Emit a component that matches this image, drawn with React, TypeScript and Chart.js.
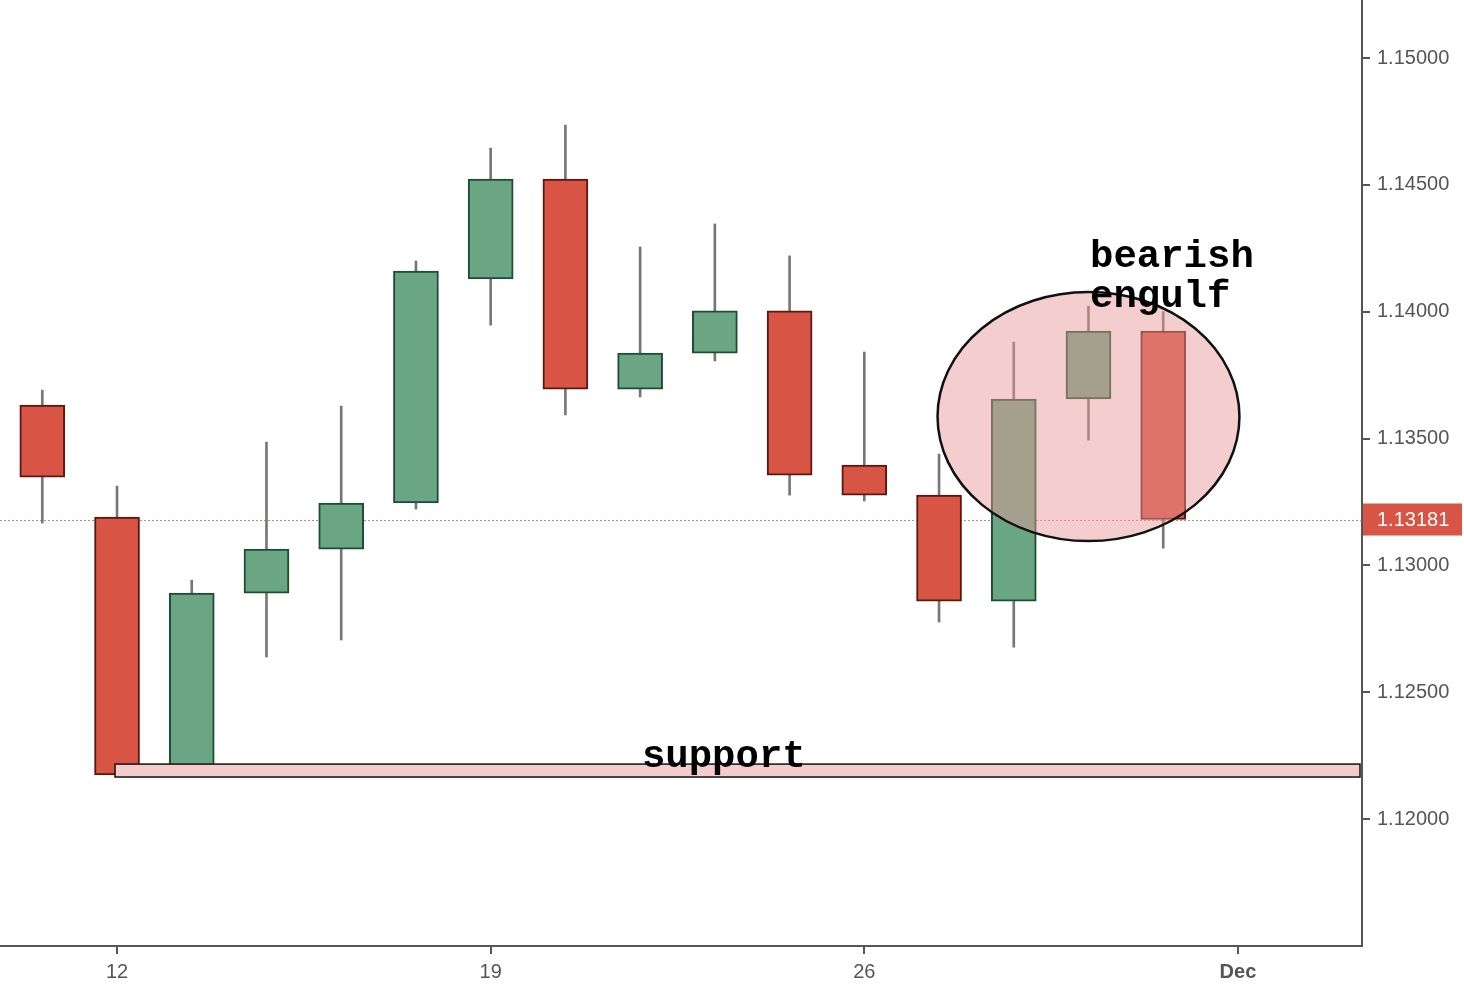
import React, { useEffect, useRef } from "react";
import { Chart, registerables } from "chart.js";

Chart.register(...registerables);

// Trading days (Nov 9 .. Nov 30), x index = position
const days = ["Nov 9", "Nov 12", "Nov 13", "Nov 14", "Nov 15", "Nov 16", "Nov 19", "Nov 20", "Nov 21", "Nov 22", "Nov 23", "Nov 26", "Nov 27", "Nov 28", "Nov 29", "Nov 30"];
const opens = [1.13632, 1.13191, 1.12174, 1.12891, 1.13064, 1.13246, 1.14129, 1.14523, 1.13695, 1.13837, 1.14003, 1.13396, 1.13277, 1.12859, 1.13656, 1.13924];
const highs = [1.13691, 1.13313, 1.12942, 1.13486, 1.13628, 1.14200, 1.14645, 1.14736, 1.14255, 1.14346, 1.14220, 1.13841, 1.13439, 1.13880, 1.14022, 1.14000];
const lows = [1.13167, 1.12174, 1.12174, 1.12639, 1.12706, 1.13222, 1.13947, 1.13593, 1.13664, 1.13806, 1.13277, 1.13254, 1.12777, 1.12678, 1.13494, 1.13068];
const closes = [1.13348, 1.12174, 1.12891, 1.13064, 1.13246, 1.14160, 1.14523, 1.13695, 1.13837, 1.14003, 1.13356, 1.13277, 1.12859, 1.13656, 1.13924, 1.13181];

const xTickValues = [1, 6, 11, 16];
const xTickLabels = ["12", "19", "26", "Dec"];
const yTickValues = [1.12, 1.125, 1.13, 1.135, 1.14, 1.145, 1.15];

const lastPrice = 1.13181;
const supportRange = [1.12166, 1.12217];
const supportStart = 1;
const supportLabel = "support";
const supportLabelPos = [9.12, 1.12205];
const ellipseCenter = [14.0, 1.135867];
const ellipseRadii = [2.02, 0.004908];
const patternLines = ["bearish", "engulf"];
const patternLabelPos = [14.02, 1.14176];

const X_MIN = -0.566;
const X_MAX = 17.66;
const Y_MIN = 1.115;
const Y_MAX = 1.152286;

const RED = "#d85444";
const RED_EDGE = "#5a1810";
const GREEN = "#6aa684";
const GREEN_EDGE = "#1e4d30";

const annotations = {
  id: "annotations",
  beforeDatasetsDraw(chart: any) {
    const { ctx, chartArea, scales } = chart;
    const y = Math.round(scales.y.getPixelForValue(lastPrice)) + 0.5;
    ctx.save();
    ctx.strokeStyle = "rgba(216,84,68,0.75)";
    ctx.lineWidth = 1;
    ctx.setLineDash([2, 2]);
    ctx.beginPath();
    ctx.moveTo(chartArea.left, y);
    ctx.lineTo(chartArea.right, y);
    ctx.stroke();
    ctx.restore();
  },
  afterDatasetsDraw(chart: any) {
    const { ctx, chartArea, scales } = chart;
    const xs = scales.x;
    const ys = scales.y;
    ctx.save();
    // support band
    const x0 = xs.getPixelForValue(supportStart) - 2;
    const x1 = chartArea.right - 2;
    const yt = ys.getPixelForValue(supportRange[1]);
    const yb = ys.getPixelForValue(supportRange[0]);
    ctx.fillStyle = "#f4cccc";
    ctx.fillRect(x0, yt, x1 - x0, yb - yt);
    ctx.strokeStyle = "#111";
    ctx.lineWidth = 1.5;
    ctx.strokeRect(x0, yt, x1 - x0, yb - yt);
    ctx.fillStyle = "#000";
    ctx.font = "bold 39px 'Liberation Mono', 'Courier New', monospace";
    ctx.textAlign = "center";
    ctx.textBaseline = "alphabetic";
    ctx.fillText(supportLabel, xs.getPixelForValue(supportLabelPos[0]), ys.getPixelForValue(supportLabelPos[1]));

    // ellipse
    const cx = xs.getPixelForValue(ellipseCenter[0]);
    const cy = ys.getPixelForValue(ellipseCenter[1]);
    const rx = xs.getPixelForValue(ellipseCenter[0] + ellipseRadii[0]) - cx;
    const ry = cy - ys.getPixelForValue(ellipseCenter[1] + ellipseRadii[1]);
    ctx.beginPath();
    ctx.ellipse(cx, cy, rx, ry, 0, 0, Math.PI * 2);
    ctx.fillStyle = "rgba(231,150,150,0.47)";
    ctx.fill();
    ctx.strokeStyle = "#111";
    ctx.lineWidth = 2.5;
    ctx.stroke();

    // pattern label
    ctx.fillStyle = "#000";
    ctx.textAlign = "left";
    const lx = xs.getPixelForValue(patternLabelPos[0]);
    const ly = ys.getPixelForValue(patternLabelPos[1]);
    patternLines.forEach((t, i) => ctx.fillText(t, lx, ly + i * 40));
    ctx.restore();
  },
  afterDraw(chart: any) {
    const { ctx, chartArea, scales } = chart;
    const y = scales.y.getPixelForValue(lastPrice);
    ctx.save();
    ctx.fillStyle = RED;
    ctx.fillRect(chartArea.right + 1, y - 16, 99, 32);
    ctx.fillStyle = "#fff";
    ctx.font = "20px 'Liberation Sans', Arial, sans-serif";
    ctx.textAlign = "left";
    ctx.textBaseline = "middle";
    ctx.fillText(lastPrice.toFixed(5), chartArea.right + 15, y + 1);
    ctx.restore();
  },
};

export default function App() {
  const ref = useRef<HTMLCanvasElement>(null);
  useEffect(() => {
    document.body.style.margin = "0";
    Chart.defaults.font.family = "'Liberation Sans', Arial, Helvetica, sans-serif";
    const up = opens.map((o, i) => closes[i] >= o);
    const chart = new Chart(ref.current!, {
      type: "bar",
      data: {
        datasets: [
          {
            label: "wick",
            data: days.map((_, i) => ({ x: i, y: [lows[i], highs[i]] })) as any,
            backgroundColor: "#777",
            borderWidth: 0,
            barThickness: 2,
            grouped: false,
            order: 2,
          } as any,
          {
            label: "body",
            data: days.map((_, i) => ({ x: i, y: [opens[i], closes[i]] })) as any,
            backgroundColor: up.map((u) => (u ? GREEN : RED)),
            borderColor: up.map((u) => (u ? GREEN_EDGE : RED_EDGE)),
            borderWidth: 2,
            borderSkipped: false,
            barThickness: 45,
            grouped: false,
            order: 1,
          } as any,
        ],
      },
      options: {
        responsive: false,
        animation: false,
        layout: { padding: 0 },
        plugins: { legend: { display: false }, tooltip: { enabled: false } },
        scales: {
          x: {
            type: "linear",
            min: X_MIN,
            max: X_MAX,
            offset: false,
            afterBuildTicks: (s: any) => {
              s.ticks = xTickValues.map((v) => ({ value: v }));
            },
            afterFit: (s: any) => {
              s.height = 50;
              s.paddingLeft = 0;
              s.paddingRight = 0;
            },
            ticks: {
              callback: (v: any) => {
                const i = xTickValues.indexOf(Number(v));
                return i >= 0 ? xTickLabels[i] : "";
              },
              color: "#555",
              font: (c: any) => ({
                size: 20,
                weight: c.tick && c.tick.value === 16 ? "bold" : "normal",
              }),
              padding: 6,
              maxRotation: 0,
              autoSkip: false,
            },
            grid: { offset: false, drawOnChartArea: false, drawTicks: true, tickLength: 8, color: "#555", lineWidth: 2 },
            border: { display: true, color: "#555", width: 2 },
          },
          y: {
            type: "linear",
            position: "right",
            min: Y_MIN,
            max: Y_MAX,
            afterBuildTicks: (s: any) => {
              s.ticks = yTickValues.map((v) => ({ value: v }));
            },
            afterFit: (s: any) => {
              s.width = 102;
              s.paddingTop = 0;
              s.paddingBottom = 0;
            },
            ticks: {
              callback: (v: any) => Number(v).toFixed(5),
              color: "#555",
              font: { size: 20 },
              padding: 7,
            },
            grid: { drawOnChartArea: false, drawTicks: true, tickLength: 8, color: "#555", lineWidth: 2 },
            border: { display: true, color: "#555", width: 2 },
          },
        },
      } as any,
      plugins: [annotations],
    });
    return () => chart.destroy();
  }, []);
  return (
    <div style={{ width: 1464, height: 996, background: "#fff" }}>
      <canvas ref={ref} width={1464} height={996} style={{ display: "block" }} />
    </div>
  );
}
